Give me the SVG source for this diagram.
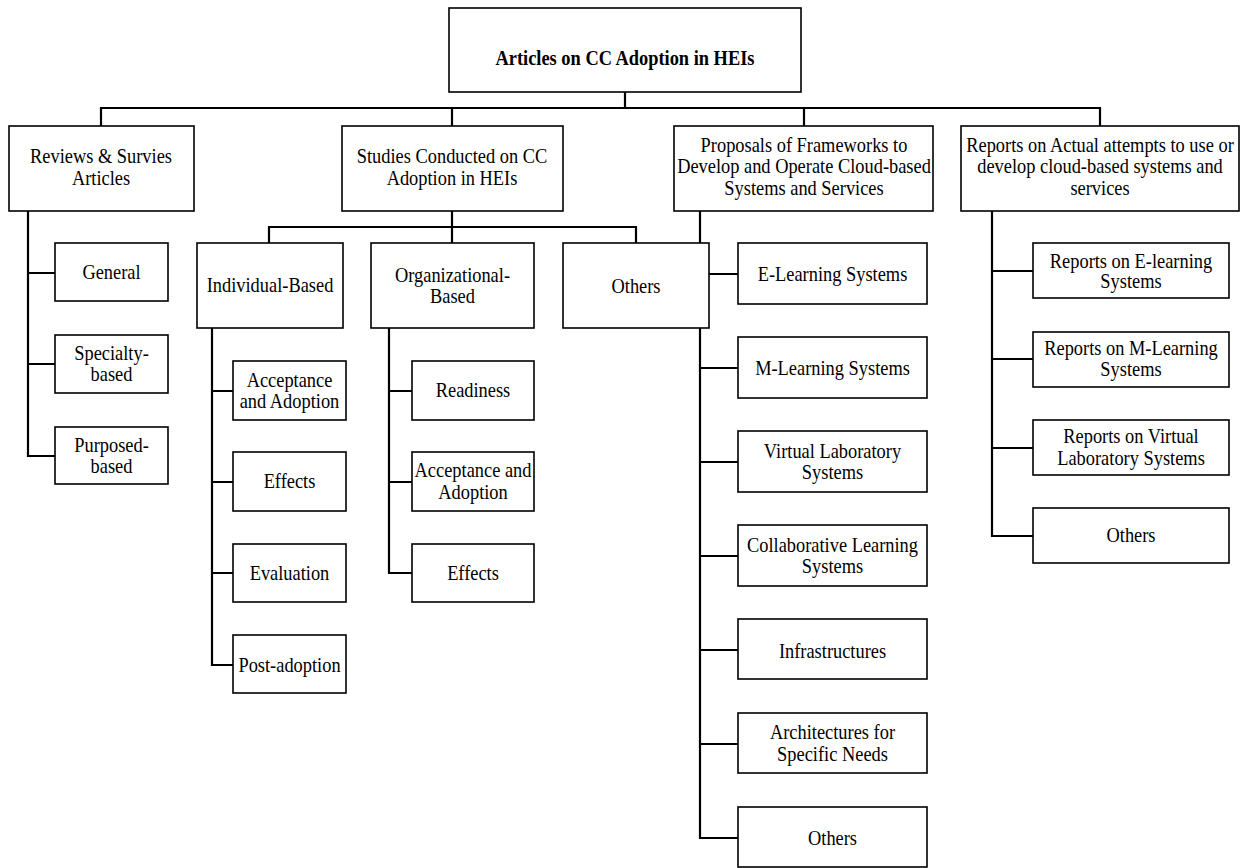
<svg xmlns="http://www.w3.org/2000/svg" width="1246" height="868" viewBox="0 0 1246 868">
<style>
.box{fill:#fff;stroke:#000;stroke-width:1.6}
.con{fill:none;stroke:#000;stroke-width:2.2}
text{font-family:"Liberation Serif","Times New Roman",serif;font-size:18.4px;fill:#000;text-anchor:middle}
.b{font-weight:bold}
</style>
<rect width="1246" height="868" fill="#fff"/>
<g id="connectors">
<path class="con" d="M625 92V108M101 126V108H1100V126M452 108V126M804 108V126"/>
<path class="con" d="M28 211V456H55M28 273H55M28 364H55"/>
<path class="con" d="M452 211V227M269 243V227H636V243M452 227V243"/>
<path class="con" d="M212 328V665H233M212 391H233M212 482H233M212 573H233"/>
<path class="con" d="M389 328V573H412M389 391H412M389 482H412"/>
<path class="con" d="M700 211V838H738M700 274H738M700 368H738M700 462H738M700 556H738M700 650H738M700 744H738"/>
<path class="con" d="M992 211V536H1033M992 271H1033M992 359H1033M992 448H1033"/>
</g>
<g id="root"><rect class="box" x="449" y="8" width="352" height="84"/><text class="b" transform="translate(625,65) scale(1,1.15)">Articles on CC Adoption in HEIs</text></g>
<g id="reviews"><rect class="box" x="9" y="126" width="185" height="85"/><text transform="translate(101,163) scale(1,1.15)"><tspan x="0">Reviews &amp; Survies</tspan><tspan x="0" dy="19.1">Articles</tspan></text></g>
<g id="studies"><rect class="box" x="342" y="126" width="221" height="85"/><text transform="translate(452,163) scale(1,1.15)"><tspan x="0">Studies Conducted on CC</tspan><tspan x="0" dy="19.1">Adoption in HEIs</tspan></text></g>
<g id="proposals"><rect class="box" x="674" y="126" width="259" height="85"/><text transform="translate(804,152) scale(1,1.15)"><tspan x="0">Proposals of Frameworks to</tspan><tspan x="0" dy="18.7">Develop and Operate Cloud-based</tspan><tspan x="0" dy="18.7">Systems and Services</tspan></text></g>
<g id="reports"><rect class="box" x="961" y="126" width="278" height="85"/><text transform="translate(1100,152) scale(1,1.15)"><tspan x="0">Reports on Actual attempts to use or</tspan><tspan x="0" dy="18.7">develop cloud-based systems and</tspan><tspan x="0" dy="18.7">services</tspan></text></g>
<g id="general"><rect class="box" x="55" y="243" width="113" height="58"/><text transform="translate(111.5,279) scale(1,1.15)">General</text></g>
<g id="specialty"><rect class="box" x="55" y="335" width="113" height="58"/><text transform="translate(111.5,360) scale(1,1.15)"><tspan x="0">Specialty-</tspan><tspan x="0" dy="18.3">based</tspan></text></g>
<g id="purposed"><rect class="box" x="55" y="427" width="113" height="57"/><text transform="translate(111.5,452) scale(1,1.15)"><tspan x="0">Purposed-</tspan><tspan x="0" dy="18.3">based</tspan></text></g>
<g id="individual"><rect class="box" x="197" y="243" width="146" height="85"/><text transform="translate(270,292) scale(1,1.15)">Individual-Based</text></g>
<g id="organizational"><rect class="box" x="371" y="243" width="163" height="85"/><text transform="translate(452.5,282) scale(1,1.15)"><tspan x="0">Organizational-</tspan><tspan x="0" dy="18.3">Based</tspan></text></g>
<g id="others-studies"><rect class="box" x="563" y="243" width="146" height="85"/><text transform="translate(636,293) scale(1,1.15)">Others</text></g>
<g id="ind-acceptance"><rect class="box" x="233" y="361" width="113" height="59"/><text transform="translate(289.5,387) scale(1,1.15)"><tspan x="0">Acceptance</tspan><tspan x="0" dy="18.3">and Adoption</tspan></text></g>
<g id="ind-effects"><rect class="box" x="233" y="452" width="113" height="59"/><text transform="translate(289.5,488) scale(1,1.15)">Effects</text></g>
<g id="ind-evaluation"><rect class="box" x="233" y="544" width="113" height="58"/><text transform="translate(289.5,580) scale(1,1.15)">Evaluation</text></g>
<g id="ind-post"><rect class="box" x="233" y="635" width="113" height="58"/><text transform="translate(289.5,672) scale(1,1.15)">Post-adoption</text></g>
<g id="org-readiness"><rect class="box" x="412" y="361" width="122" height="59"/><text transform="translate(473,397) scale(1,1.15)">Readiness</text></g>
<g id="org-acceptance"><rect class="box" x="412" y="452" width="122" height="59"/><text transform="translate(473,477) scale(1,1.15)"><tspan x="0">Acceptance and</tspan><tspan x="0" dy="19.1">Adoption</tspan></text></g>
<g id="org-effects"><rect class="box" x="412" y="544" width="122" height="58"/><text transform="translate(473,580) scale(1,1.15)">Effects</text></g>
<g id="p-elearning"><rect class="box" x="738" y="243" width="189" height="61"/><text transform="translate(832.5,281) scale(1,1.15)">E-Learning Systems</text></g>
<g id="p-mlearning"><rect class="box" x="738" y="337" width="189" height="61"/><text transform="translate(832.5,375) scale(1,1.15)">M-Learning Systems</text></g>
<g id="p-virtual"><rect class="box" x="738" y="431" width="189" height="61"/><text transform="translate(832.5,458) scale(1,1.15)"><tspan x="0">Virtual Laboratory</tspan><tspan x="0" dy="18.3">Systems</tspan></text></g>
<g id="p-collab"><rect class="box" x="738" y="525" width="189" height="61"/><text transform="translate(832.5,552) scale(1,1.15)"><tspan x="0">Collaborative Learning</tspan><tspan x="0" dy="18.3">Systems</tspan></text></g>
<g id="p-infra"><rect class="box" x="738" y="619" width="189" height="60"/><text transform="translate(832.5,658) scale(1,1.15)">Infrastructures</text></g>
<g id="p-arch"><rect class="box" x="738" y="713" width="189" height="60"/><text transform="translate(832.5,739) scale(1,1.15)"><tspan x="0">Architectures for</tspan><tspan x="0" dy="19.1">Specific Needs</tspan></text></g>
<g id="p-others"><rect class="box" x="738" y="807" width="189" height="60"/><text transform="translate(832.5,845) scale(1,1.15)">Others</text></g>
<g id="r-elearning"><rect class="box" x="1033" y="243" width="196" height="55"/><text transform="translate(1131,268) scale(1,1.15)"><tspan x="0">Reports on E-learning</tspan><tspan x="0" dy="17.8">Systems</tspan></text></g>
<g id="r-mlearning"><rect class="box" x="1033" y="332" width="196" height="55"/><text transform="translate(1131,355) scale(1,1.15)"><tspan x="0">Reports on M-Learning</tspan><tspan x="0" dy="18.7">Systems</tspan></text></g>
<g id="r-virtual"><rect class="box" x="1033" y="420" width="196" height="55"/><text transform="translate(1131,443) scale(1,1.15)"><tspan x="0">Reports on Virtual</tspan><tspan x="0" dy="19.1">Laboratory Systems</tspan></text></g>
<g id="r-others"><rect class="box" x="1033" y="508" width="196" height="55"/><text transform="translate(1131,542) scale(1,1.15)">Others</text></g>
</svg>
